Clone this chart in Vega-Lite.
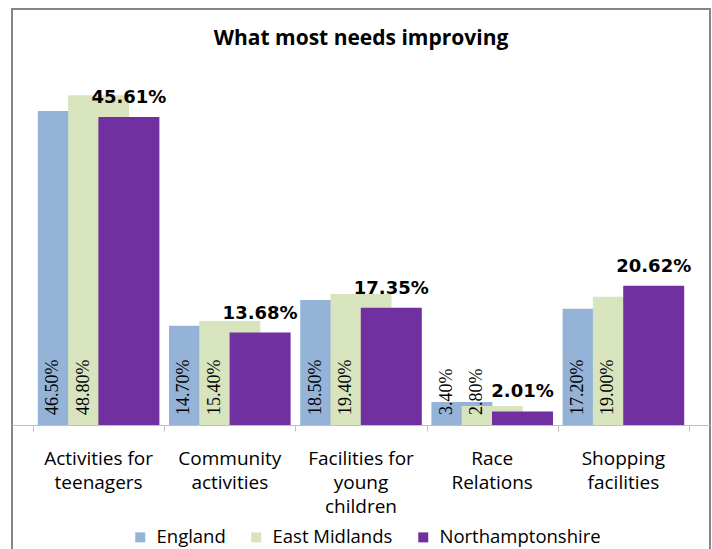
{
  "$schema": "https://vega.github.io/schema/vega-lite/v6.json",
  "width": 698,
  "height": 541,
  "autosize": "none",
  "padding": {"left": 12, "top": 9, "right": 2, "bottom": -1},
  "background": "white",
  "title": {"text": "What most needs improving", "font": "Open Sans", "fontSize": 21, "fontWeight": "bold", "color": "#000000", "anchor": "middle", "frame": "group", "offset": 0, "baseline": "bottom", "dy": 61},
  "config": {"view": {"stroke": "#868686", "strokeWidth": 2}},
  "resolve": {"axis": {"x": "independent"}},
  "data": {"values": [
    {"category": "Activities for teenagers", "region": "England", "value": 0.465},
    {"category": "Activities for teenagers", "region": "East Midlands", "value": 0.488},
    {"category": "Activities for teenagers", "region": "Northamptonshire", "value": 0.4561},
    {"category": "Community activities", "region": "England", "value": 0.147},
    {"category": "Community activities", "region": "East Midlands", "value": 0.154},
    {"category": "Community activities", "region": "Northamptonshire", "value": 0.1368},
    {"category": "Facilities for young children", "region": "England", "value": 0.185},
    {"category": "Facilities for young children", "region": "East Midlands", "value": 0.194},
    {"category": "Facilities for young children", "region": "Northamptonshire", "value": 0.1735},
    {"category": "Race Relations", "region": "England", "value": 0.034},
    {"category": "Race Relations", "region": "East Midlands", "value": 0.028},
    {"category": "Race Relations", "region": "Northamptonshire", "value": 0.0201},
    {"category": "Shopping facilities", "region": "England", "value": 0.172},
    {"category": "Shopping facilities", "region": "East Midlands", "value": 0.19},
    {"category": "Shopping facilities", "region": "Northamptonshire", "value": 0.2062}
  ]},
  "layer": [
    {
      "mark": {"type": "bar", "width": 61},
      "encoding": {
        "x": {"field": "category", "type": "nominal",
          "sort": ["Activities for teenagers", "Community activities", "Facilities for young children", "Race Relations", "Shopping facilities"],
          "scale": {"paddingInner": 0, "paddingOuter": 0.16},
          "axis": {"orient": "bottom", "offset": -125, "title": null, "grid": false,
            "domainColor": "#bfbfbf", "domainWidth": 1, "ticks": false,
            "labelFont": "Open Sans", "labelFontSize": 19, "labelColor": "#000000", "labelAngle": 0,
            "labelPadding": 24, "labelLineHeight": 24, "labelOverlap": false, "labelBound": false, "labelLimit": 300,
            "labelExpr": "datum.label == 'Activities for teenagers' ? ['Activities for', 'teenagers'] : datum.label == 'Community activities' ? ['Community', 'activities'] : datum.label == 'Facilities for young children' ? ['Facilities for', 'young', 'children'] : datum.label == 'Race Relations' ? ['Race', 'Relations'] : ['Shopping', 'facilities']"}},
        "xOffset": {"field": "region", "type": "nominal",
          "sort": ["England", "East Midlands", "Northamptonshire"],
          "scale": {"domain": ["England", "East Midlands", "Northamptonshire"], "paddingInner": 0, "paddingOuter": 0.665}},
        "y": {"field": "value", "type": "quantitative",
          "scale": {"domain": [-0.185, 0.6158], "nice": false, "zero": false},
          "axis": null},
        "y2": {"datum": 0},
        "color": {"field": "region", "type": "nominal",
          "scale": {"domain": ["England", "East Midlands", "Northamptonshire"], "range": ["#95B3D7", "#D7E4BD", "#7030A0"]},
          "legend": {"title": null, "orient": "none", "legendX": 119, "legendY": 519, "direction": "horizontal",
            "symbolType": "square", "symbolSize": 100, "symbolStrokeWidth": 0,
            "labelFont": "Open Sans", "labelFontSize": 18.5, "labelColor": "#000000", "labelOffset": 7,
            "columnPadding": 21, "padding": 0, "labelLimit": 300}}
      }
    },
    {
      "transform": [{"filter": "datum.region != 'Northamptonshire'"}],
      "mark": {"type": "text", "angle": 270, "align": "left", "baseline": "middle", "dx": 10, "dy": -15, "font": "Liberation Serif", "fontSize": 18, "color": "#000000"},
      "encoding": {
        "x": {"field": "category", "type": "nominal",
          "sort": ["Activities for teenagers", "Community activities", "Facilities for young children", "Race Relations", "Shopping facilities"],
          "axis": null},
        "xOffset": {"field": "region", "type": "nominal",
          "sort": ["England", "East Midlands", "Northamptonshire"],
          "scale": {"domain": ["England", "East Midlands", "Northamptonshire"]}},
        "y": {"datum": 0, "type": "quantitative", "axis": null},
        "text": {"field": "value", "type": "quantitative", "format": ".2%"}
      }
    },
    {
      "transform": [{"filter": "datum.region == 'Northamptonshire'"}],
      "mark": {"type": "text", "baseline": "alphabetic", "align": "center", "dy": -14, "font": "DejaVu Sans", "fontSize": 18, "letterSpacing": 0.8, "fontWeight": "bold", "color": "#000000"},
      "encoding": {
        "x": {"field": "category", "type": "nominal",
          "sort": ["Activities for teenagers", "Community activities", "Facilities for young children", "Race Relations", "Shopping facilities"],
          "axis": {"orient": "bottom", "offset": -125, "title": null, "grid": false, "domain": false, "labels": false,
            "ticks": true, "tickBand": "extent", "tickSize": 6, "tickColor": "#bfbfbf", "tickWidth": 1}},
        "xOffset": {"field": "region", "type": "nominal",
          "sort": ["England", "East Midlands", "Northamptonshire"],
          "scale": {"domain": ["England", "East Midlands", "Northamptonshire"]}},
        "y": {"field": "value", "type": "quantitative", "axis": null},
        "text": {"field": "value", "type": "quantitative", "format": ".2%"}
      }
    }
  ]
}
